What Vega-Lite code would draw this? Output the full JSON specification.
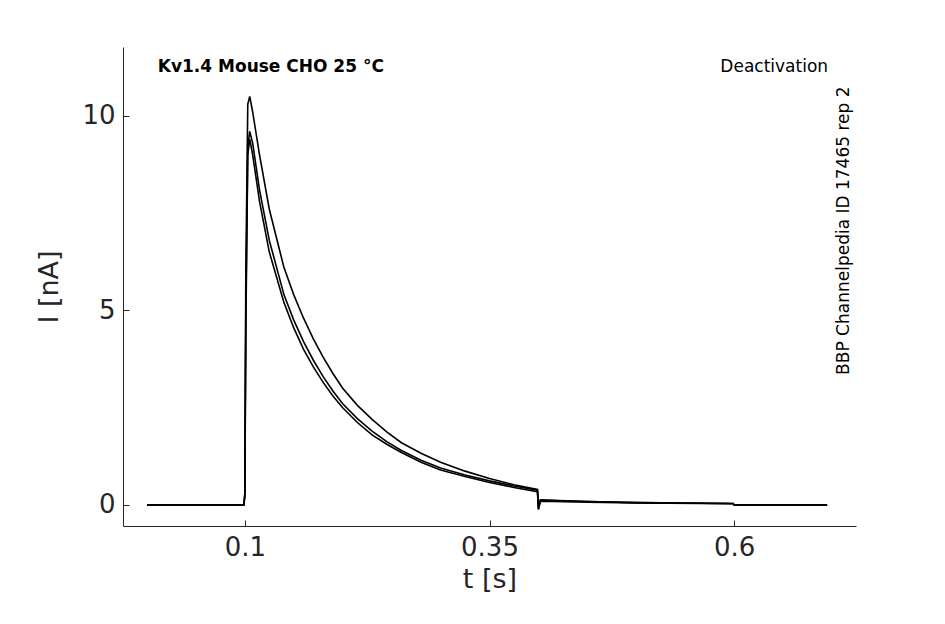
{
  "$schema": "https://vega.github.io/schema/vega-lite/v6.json",
  "width": 733,
  "height": 479,
  "padding": {"left": 123, "top": 47, "right": 89, "bottom": 98},
  "autosize": "none",
  "background": "white",
  "config": {"font": "DejaVu Sans", "view": {"stroke": null}},
  "datasets": {
    "traces": [
      {"trace": "a", "t": 0, "i": 0}, {"trace": "a", "t": 0.099, "i": 0}, {"trace": "a", "t": 0.1, "i": 0.3}, {"trace": "a", "t": 0.101, "i": 5}, {"trace": "a", "t": 0.103, "i": 9.2}, {"trace": "a", "t": 0.105, "i": 9.6}, {"trace": "a", "t": 0.108, "i": 9.3}, {"trace": "a", "t": 0.115, "i": 8.1}, {"trace": "a", "t": 0.125, "i": 6.8}, {"trace": "a", "t": 0.14, "i": 5.4}, {"trace": "a", "t": 0.15, "i": 4.75}, {"trace": "a", "t": 0.16, "i": 4.2}, {"trace": "a", "t": 0.17, "i": 3.72}, {"trace": "a", "t": 0.18, "i": 3.3}, {"trace": "a", "t": 0.19, "i": 2.93}, {"trace": "a", "t": 0.2, "i": 2.6}, {"trace": "a", "t": 0.215, "i": 2.22}, {"trace": "a", "t": 0.23, "i": 1.9}, {"trace": "a", "t": 0.245, "i": 1.63}, {"trace": "a", "t": 0.26, "i": 1.4}, {"trace": "a", "t": 0.28, "i": 1.15}, {"trace": "a", "t": 0.3, "i": 0.95}, {"trace": "a", "t": 0.325, "i": 0.77}, {"trace": "a", "t": 0.35, "i": 0.62}, {"trace": "a", "t": 0.375, "i": 0.49}, {"trace": "a", "t": 0.399, "i": 0.38}, {"trace": "a", "t": 0.4, "i": -0.1}, {"trace": "a", "t": 0.402, "i": 0.12}, {"trace": "a", "t": 0.45, "i": 0.09}, {"trace": "a", "t": 0.5, "i": 0.06}, {"trace": "a", "t": 0.599, "i": 0.04}, {"trace": "a", "t": 0.6, "i": 0}, {"trace": "a", "t": 0.695, "i": 0},
      {"trace": "b", "t": 0, "i": 0}, {"trace": "b", "t": 0.099, "i": 0}, {"trace": "b", "t": 0.1, "i": 0.3}, {"trace": "b", "t": 0.101, "i": 6}, {"trace": "b", "t": 0.103, "i": 10.3}, {"trace": "b", "t": 0.105, "i": 10.5}, {"trace": "b", "t": 0.108, "i": 10.1}, {"trace": "b", "t": 0.115, "i": 9.0}, {"trace": "b", "t": 0.125, "i": 7.6}, {"trace": "b", "t": 0.14, "i": 6.1}, {"trace": "b", "t": 0.15, "i": 5.4}, {"trace": "b", "t": 0.16, "i": 4.8}, {"trace": "b", "t": 0.17, "i": 4.27}, {"trace": "b", "t": 0.18, "i": 3.8}, {"trace": "b", "t": 0.19, "i": 3.38}, {"trace": "b", "t": 0.2, "i": 3.0}, {"trace": "b", "t": 0.215, "i": 2.56}, {"trace": "b", "t": 0.23, "i": 2.2}, {"trace": "b", "t": 0.245, "i": 1.88}, {"trace": "b", "t": 0.26, "i": 1.6}, {"trace": "b", "t": 0.28, "i": 1.33}, {"trace": "b", "t": 0.3, "i": 1.1}, {"trace": "b", "t": 0.325, "i": 0.87}, {"trace": "b", "t": 0.35, "i": 0.68}, {"trace": "b", "t": 0.375, "i": 0.52}, {"trace": "b", "t": 0.399, "i": 0.4}, {"trace": "b", "t": 0.4, "i": -0.05}, {"trace": "b", "t": 0.402, "i": 0.13}, {"trace": "b", "t": 0.45, "i": 0.09}, {"trace": "b", "t": 0.5, "i": 0.06}, {"trace": "b", "t": 0.599, "i": 0.04}, {"trace": "b", "t": 0.6, "i": 0}, {"trace": "b", "t": 0.695, "i": 0},
      {"trace": "c", "t": 0, "i": 0}, {"trace": "c", "t": 0.099, "i": 0}, {"trace": "c", "t": 0.1, "i": 0.2}, {"trace": "c", "t": 0.101, "i": 4.5}, {"trace": "c", "t": 0.103, "i": 9.0}, {"trace": "c", "t": 0.105, "i": 9.4}, {"trace": "c", "t": 0.108, "i": 9.0}, {"trace": "c", "t": 0.115, "i": 7.8}, {"trace": "c", "t": 0.125, "i": 6.5}, {"trace": "c", "t": 0.14, "i": 5.2}, {"trace": "c", "t": 0.15, "i": 4.55}, {"trace": "c", "t": 0.16, "i": 4.0}, {"trace": "c", "t": 0.17, "i": 3.55}, {"trace": "c", "t": 0.18, "i": 3.15}, {"trace": "c", "t": 0.19, "i": 2.8}, {"trace": "c", "t": 0.2, "i": 2.5}, {"trace": "c", "t": 0.215, "i": 2.12}, {"trace": "c", "t": 0.23, "i": 1.8}, {"trace": "c", "t": 0.245, "i": 1.56}, {"trace": "c", "t": 0.26, "i": 1.35}, {"trace": "c", "t": 0.28, "i": 1.1}, {"trace": "c", "t": 0.3, "i": 0.9}, {"trace": "c", "t": 0.325, "i": 0.73}, {"trace": "c", "t": 0.35, "i": 0.58}, {"trace": "c", "t": 0.375, "i": 0.45}, {"trace": "c", "t": 0.399, "i": 0.34}, {"trace": "c", "t": 0.4, "i": -0.12}, {"trace": "c", "t": 0.402, "i": 0.1}, {"trace": "c", "t": 0.45, "i": 0.07}, {"trace": "c", "t": 0.5, "i": 0.05}, {"trace": "c", "t": 0.599, "i": 0.03}, {"trace": "c", "t": 0.6, "i": 0}, {"trace": "c", "t": 0.695, "i": 0}
    ],
    "labels": [
      {"t": 0.011, "i": 11.25, "label": "Kv1.4  Mouse  CHO  25 °C"}
    ],
    "right": [
      {"t": 0.696, "i": 11.25, "label": "Deactivation"}
    ],
    "side": [
      {"t": 0.712, "i": 7.05, "label": "BBP Channelpedia ID 17465 rep 2"}
    ]
  },
  "layer": [
    {
      "data": {"name": "traces"},
      "mark": {"type": "line", "color": "black", "strokeWidth": 1.6},
      "encoding": {
        "x": {
          "field": "t", "type": "quantitative", "title": "t [s]",
          "scale": {"domain": [-0.0245, 0.7245], "nice": false, "zero": false},
          "axis": {"values": [0.1, 0.35, 0.6], "format": "~g", "grid": false, "labelFontSize": 26, "titleFontSize": 27, "titleFontWeight": "normal", "labelColor": "#262626", "titleColor": "#262626", "domainColor": "#262626", "tickColor": "#262626", "tickSize": -6, "labelPadding": 14, "titlePadding": 6}
        },
        "y": {
          "field": "i", "type": "quantitative", "title": "I [nA]",
          "scale": {"domain": [-0.54, 11.77], "nice": false, "zero": false},
          "axis": {"values": [0, 5, 10], "grid": false, "labelFontSize": 26, "titleFontSize": 27, "titleFontWeight": "normal", "labelColor": "#262626", "titleColor": "#262626", "domainColor": "#262626", "tickColor": "#262626", "tickSize": -6, "labelPadding": 14, "titlePadding": 18}
        },
        "detail": {"field": "trace"}
      }
    },
    {
      "data": {"name": "labels"},
      "mark": {"type": "text", "fontSize": 17, "fontWeight": "bold", "align": "left", "baseline": "middle", "color": "black"},
      "encoding": {"x": {"field": "t", "type": "quantitative"}, "y": {"field": "i", "type": "quantitative"}, "text": {"field": "label"}}
    },
    {
      "data": {"name": "right"},
      "mark": {"type": "text", "fontSize": 17, "align": "right", "baseline": "middle", "color": "black"},
      "encoding": {"x": {"field": "t", "type": "quantitative"}, "y": {"field": "i", "type": "quantitative"}, "text": {"field": "label"}}
    },
    {
      "data": {"name": "side"},
      "mark": {"type": "text", "fontSize": 17, "angle": 270, "align": "center", "baseline": "middle", "color": "black"},
      "encoding": {"x": {"field": "t", "type": "quantitative"}, "y": {"field": "i", "type": "quantitative"}, "text": {"field": "label"}}
    }
  ]
}
